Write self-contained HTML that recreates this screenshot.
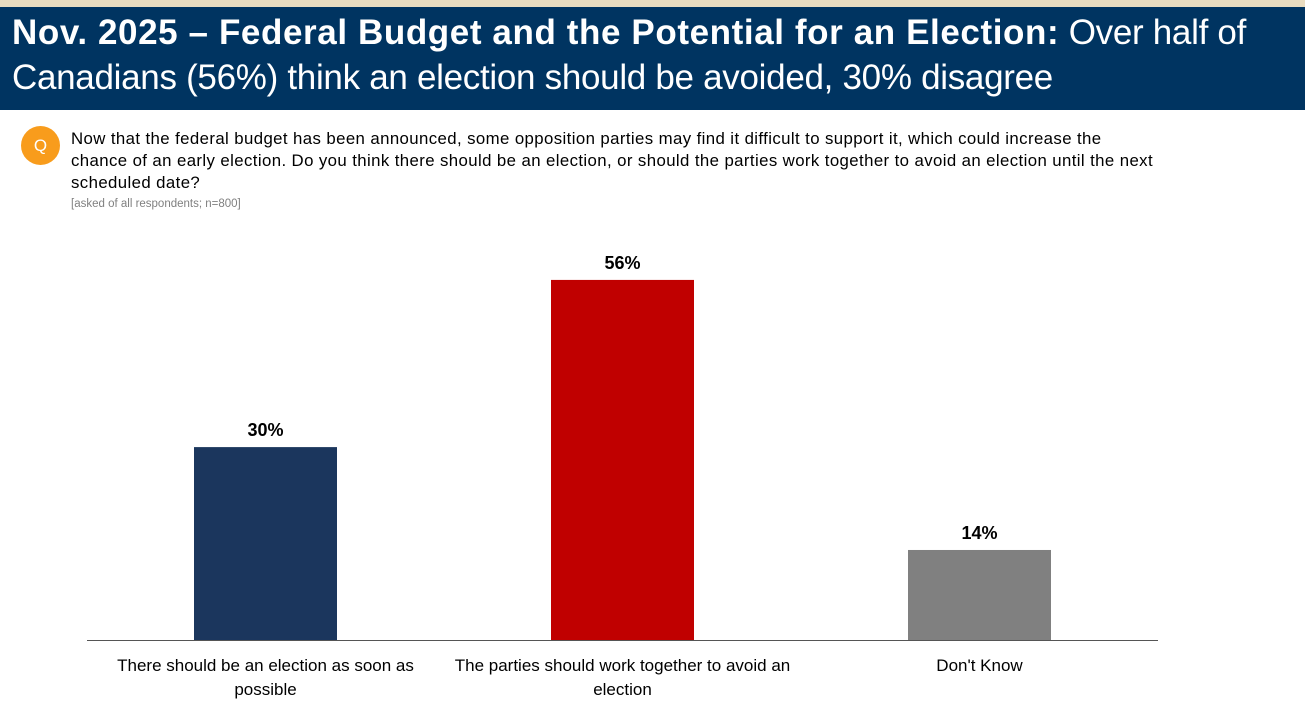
<!DOCTYPE html>
<html><head><meta charset="utf-8"><style>
body{margin:0;width:1305px;height:723px;background:#fff;font-family:"Liberation Sans",sans-serif;position:relative;overflow:hidden}
#strip{position:absolute;left:0;top:0;width:1305px;height:7px;background:#e9dcc0}
#hdr{position:absolute;left:0;top:7px;width:1305px;height:103px;background:#003461;color:#fff}
#hdr div{position:absolute;left:12px;font-size:35px;white-space:nowrap;letter-spacing:-0.3px}
#hdr b{letter-spacing:0.6px}
#q{position:absolute;left:21px;top:126px;width:39px;height:39px;border-radius:50%;background:#f89c1c;color:#fff;font-size:17px;text-align:center;line-height:39px}
#qt{position:absolute;left:71px;top:128px;white-space:nowrap;font-size:16.8px;line-height:22px;color:#000;letter-spacing:0.4px}
#note{position:absolute;left:71px;top:198px;font-size:11.5px;color:#808080}
svg{position:absolute;left:0;top:0}
</style></head><body>
<div id="strip"></div>
<div id="hdr">
<div style="top:6px"><b>Nov. 2025 – Federal Budget and the Potential for an Election:</b> Over half of</div>
<div style="top:51px">Canadians (56%) think an election should be avoided, 30% disagree</div>
</div>
<div id="q">Q</div>
<div id="qt">Now that the federal budget has been announced, some opposition parties may find it difficult to support it, which could increase the<br>chance of an early election. Do you think there should be an election, or should the parties work together to avoid an election until the next<br>scheduled date?</div>
<div id="note">[asked of all respondents; n=800]</div>
<svg id="chart" width="1305" height="723"></svg>
<script>
const categories=[["There should be an election as soon as","possible"],["The parties should work together to avoid an","election"],["Don't Know"]];
const values=[30,56,14];
const valueLabels=["30%","56%","14%"];
const colors=["#1b365d","#c00000","#808080"];
const NS="http://www.w3.org/2000/svg";
const svg=document.getElementById('chart');
const x0=87,x1=1158,base=640,ppu=6.43,bw=143;
const band=(x1-x0)/categories.length;
const xc=i=>x0+band*(i+0.5);
const y=v=>base-v*ppu;
function mk(t,a){const e=document.createElementNS(NS,t);for(const k in a)e.setAttribute(k,a[k]);svg.appendChild(e);return e;}
values.forEach((v,i)=>{
 const r=mk('rect',{x:xc(i)-bw/2,y:y(v),width:bw,height:base-y(v),fill:colors[i]});
 
 
 const t=mk('text',{x:xc(i),y:y(v)-11,'text-anchor':'middle','font-size':18,'font-weight':'bold','font-family':'Liberation Sans, sans-serif'});
 t.textContent=valueLabels[i];
 
 
 categories[i].forEach((ln,j)=>{
  const c=mk('text',{x:xc(i),y:671+j*24,'text-anchor':'middle','font-size':17,'font-family':'Liberation Sans, sans-serif'});
  c.textContent=ln;
  
  
 });
});
const ax=mk('line',{x1:x0,x2:x1,y1:base+0.5,y2:base+0.5,stroke:'#555','stroke-width':1});


</script>
</body></html>
